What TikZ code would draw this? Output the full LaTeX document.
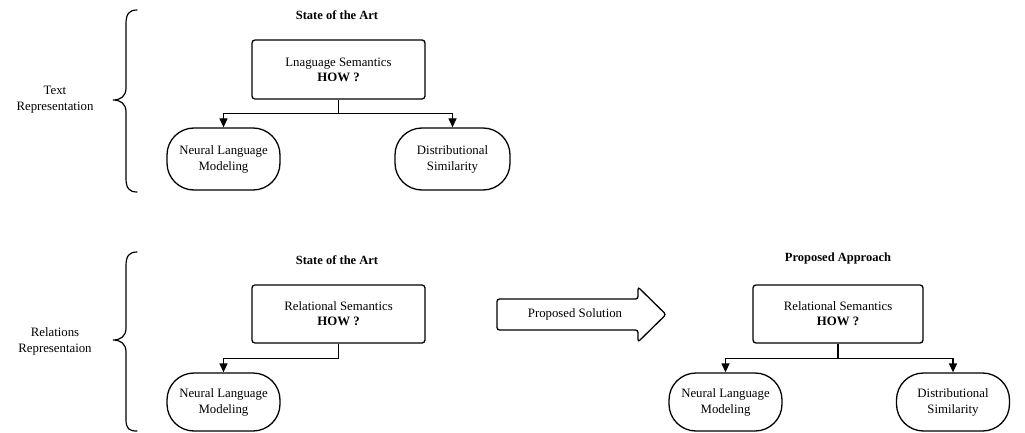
\documentclass[tikz,border=0pt]{standalone}
\usepackage{fontspec}
\setmainfont{Liberation Serif}
\usetikzlibrary{arrows.meta}
\tikzset{
  lbl/.style={font=\fontsize{12.8}{16}\selectfont, align=center, inner sep=0pt},
  ttl/.style={font=\fontsize{12.5}{14}\selectfont\bfseries, inner sep=0pt},
  box/.style={draw, line width=1.3pt, rounded corners=3pt, align=center,
    font=\fontsize{12.8}{15}\selectfont, inner sep=0pt},
  term/.style={draw, line width=1.3pt, rounded corners=27pt, align=center,
    font=\fontsize{12.8}{16}\selectfont, inner sep=0pt},
  arr/.style={line width=1.3pt, -{Triangle[length=9pt,width=8pt]}},
  link/.style={line width=1.3pt},
  brace/.style={line width=1.2pt, line cap=round},
}
\begin{document}
\begin{tikzpicture}[x=1pt,y=-1pt]
\useasboundingbox (0,0) rectangle (1025,433);

% ---- upper row: text representation ----
\draw[brace] (137,10) .. controls (129,10) and (126,14) .. (126,24)
  -- (126,88) .. controls (126,96) and (121,100) .. (113,100)
  .. controls (121,100) and (126,104) .. (126,112)
  -- (126,178) .. controls (126,188) and (129,192) .. (137,192);
\node[lbl] (tr) at (55,100) {Text\\Representation};

\node[ttl] (t1) at (337,15) {State of the Art};
\node[box, minimum width=173pt, minimum height=59pt] (ls) at (338.5,69.5)
  {Lnaguage Semantics\\\textbf{HOW ?}};
\node[term, minimum width=113pt, minimum height=62pt] (n1) at (223.5,159)
  {Neural Language\\Modeling};
\node[term, minimum width=115pt, minimum height=62pt] (d1) at (452.5,159)
  {Distributional\\Similarity};
\coordinate (j1) at ([yshift=-14pt]ls.south);
\draw[link] (ls.south) -- (j1);
\draw[arr] (j1) -| (n1.north);
\draw[arr] (j1) -| (d1.north);

% ---- lower row: relations representation ----
\draw[brace] (137,252) .. controls (129,252) and (126,256) .. (126,266)
  -- (126,328) .. controls (126,336) and (121,340) .. (113,340)
  .. controls (121,340) and (126,344) .. (126,352)
  -- (126,419) .. controls (126,429) and (129,431) .. (137,431);
\node[lbl] (rr) at (55,341) {Relations\\Representaion};

\node[ttl] (t2) at (337,260) {State of the Art};
\node[box, minimum width=173pt, minimum height=58pt] (rs) at (338.5,314)
  {Relational Semantics\\\textbf{HOW ?}};
\node[term, minimum width=113pt, minimum height=58pt] (n2) at (223.5,402)
  {Neural Language\\Modeling};
\coordinate (j2) at ([yshift=-15pt]rs.south);
\draw[link] (rs.south) -- (j2);
\draw[arr] (j2) -| (n2.north);

% block arrow between the two halves
\draw[line width=1.3pt, rounded corners=2.5pt]
  (497,299) -- (638,299) -- (638,287) -- (666,314.5) -- (638,342)
  -- (638,330) -- (497,330) -- cycle;
\node[lbl] (ps) at (575,314.5) {Proposed Solution};

\node[ttl] (t3) at (838,258) {Proposed Approach};
\node[box, minimum width=170pt, minimum height=58pt] (pa) at (838,314)
  {Relational Semantics\\\textbf{HOW ?}};
\node[term, minimum width=113pt, minimum height=58pt] (n3) at (725.5,402)
  {Neural Language\\Modeling};
\node[term, minimum width=113pt, minimum height=58pt] (d3) at (953,402)
  {Distributional\\Similarity};
\coordinate (j3) at ([yshift=-15pt]pa.south);
\draw[link] (pa.south) -- (j3);
\draw[arr] (j3) -| (n3.north);
\draw[arr] (j3) -| (d3.north);
\end{tikzpicture}
\end{document}
